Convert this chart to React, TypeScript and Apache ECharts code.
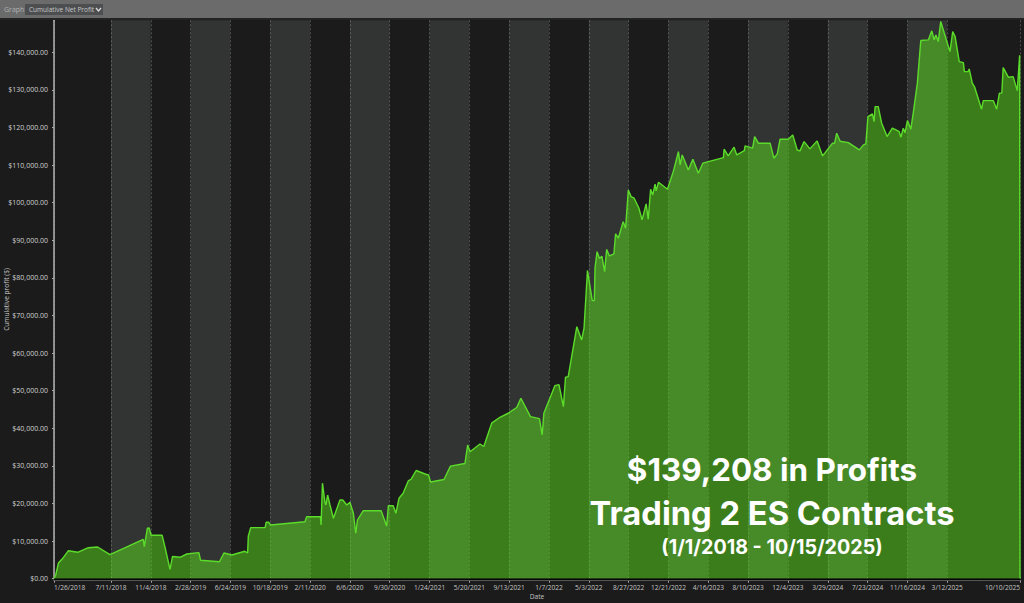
import React from 'react';
import * as echarts from 'echarts';

// x positions are days since the first axis date (1/26/2018)
const tickDays = [0, 166, 282, 398, 514, 630, 746, 862, 978, 1094, 1210, 1326, 1442, 1558, 1674, 1790, 1906, 2022, 2138, 2254, 2370, 2486, 2602, 2814];
const tickLabels = ['1/26/2018', '7/11/2018', '11/4/2018', '2/28/2019', '6/24/2019', '10/18/2019', '2/11/2020', '6/6/2020', '9/30/2020', '1/24/2021', '5/20/2021', '9/13/2021', '1/7/2022', '5/3/2022', '8/27/2022', '12/21/2022', '4/16/2023', '8/10/2023', '12/4/2023', '3/29/2024', '7/23/2024', '11/16/2024', '3/12/2025', '10/10/2025'];
const profitTicks = [0, 10000, 20000, 30000, 40000, 50000, 60000, 70000, 80000, 90000, 100000, 110000, 120000, 130000, 140000];

const tradeDays = [
  0, 5, 13, 27, 42, 69, 100, 127, 163, 260, 263, 272, 277, 283, 315, 323, 338, 345, 367, 387,
  422, 427, 482, 495, 518, 556, 564, 566, 573, 615, 618, 625, 631, 731, 736, 776, 778, 782, 789, 792,
  797, 804, 814, 833, 841, 853, 862, 872, 879, 884, 901, 953, 969, 974, 988, 996, 1005, 1017, 1032, 1040,
  1055, 1081, 1091, 1097, 1136, 1155, 1197, 1205, 1212, 1241, 1252, 1275, 1299, 1323, 1348, 1360, 1388, 1414, 1422, 1427,
  1459, 1471, 1484, 1490, 1498, 1523, 1537, 1544, 1554, 1568, 1574, 1576, 1582, 1589, 1596, 1604, 1610, 1618, 1631, 1636,
  1644, 1658, 1665, 1673, 1681, 1690, 1704, 1713, 1725, 1731, 1738, 1744, 1751, 1754, 1761, 1787, 1804, 1819, 1824, 1830,
  1848, 1861, 1877, 1890, 1950, 1952, 1964, 1981, 1989, 2011, 2013, 2035, 2041, 2052, 2086, 2097, 2107, 2115, 2139, 2152,
  2165, 2173, 2185, 2202, 2223, 2239, 2268, 2274, 2280, 2290, 2314, 2346, 2358, 2365, 2371, 2384, 2389, 2392, 2401, 2411,
  2427, 2442, 2453, 2462, 2467, 2474, 2479, 2486, 2496, 2503, 2515, 2525, 2547, 2557, 2564, 2569, 2576, 2583, 2610, 2618,
  2625, 2637, 2649, 2652, 2663, 2666, 2675, 2682, 2702, 2707, 2736, 2746, 2754, 2761, 2765, 2780, 2794, 2806, 2813, 2814,
];
const netProfit = [
  0, 980, 4180, 5590, 7450, 7020, 8250, 8430, 6380, 10480, 8510, 13410, 13490, 11540, 11540, 8510, 2500, 5900, 5690, 6570,
  6920, 4890, 4520, 6840, 6300, 7290, 6840, 11280, 13570, 13570, 15000, 15000, 14280, 15160, 16490, 16490, 14280, 25400, 20480, 19600,
  22260, 19600, 16070, 20930, 20930, 19600, 20320, 17400, 12080, 15610, 18090, 18090, 14020, 19420, 19420, 17400, 21390, 22720, 25990, 26440,
  28780, 27850, 27580, 25720, 26390, 29930, 30640, 35560, 33760, 35830, 35160, 41360, 42930, 44000, 45540, 47990, 43090, 42560, 38220, 44000,
  51340, 51600, 45750, 53570, 53730, 67030, 63490, 66610, 81980, 73950, 73950, 82640, 86980, 85170, 85760, 81660, 87570, 85840, 86370, 91690,
  90550, 94960, 93210, 103390, 101610, 101190, 98530, 95410, 99660, 95600, 103580, 102060, 104910, 103130, 105440, 103580, 108260, 113580, 110040, 112700,
  108710, 111560, 107840, 110500, 111990, 114220, 112440, 114750, 112700, 113850, 115100, 114490, 117570, 115820, 115820, 111830, 112970, 116880, 116880, 118020,
  114010, 113770, 116240, 114300, 116430, 112440, 115820, 115820, 118480, 116350, 115980, 114040, 115360, 115630, 122890, 123610, 121560, 125550, 125550, 121140,
  117570, 119810, 119350, 118900, 117410, 119810, 118560, 121830, 119540, 123800, 131780, 143110, 143290, 145690, 143290, 144620, 142840, 148160, 140180, 145500,
  144170, 137520, 137260, 134860, 134860, 135580, 131770, 130710, 124860, 127150, 127150, 124860, 129120, 129120, 135930, 133370, 133530, 129810, 139208, 0,
];

const money = (v: number) =>
  '$' + v.toLocaleString('en-US', { minimumFractionDigits: 2, maximumFractionDigits: 2 });

export default function App() {
  const chartRef = React.useRef<HTMLDivElement>(null);

  React.useEffect(() => {
    if (!chartRef.current) return;
    document.body.style.margin = '0';
    document.body.style.background = '#1b1b1b';

    const chart = echarts.init(chartRef.current, null, { renderer: 'svg' });

    chart.setOption({
      animation: false,
      backgroundColor: '#1b1b1b',
      grid: { left: 54, right: 4, top: 20.3, bottom: 24.3, outerBoundsMode: 'none' },
      xAxis: {
        type: 'value',
        min: 0,
        max: 2814,
        offset: 2,
        name: 'Date',
        nameLocation: 'middle',
        nameMoveOverlap: false,
        nameGap: 12,
        nameTextStyle: { color: '#c4c4c4', fontSize: 6.6, fontFamily: 'Open Sans' },
        axisLine: { show: true, onZero: false, lineStyle: { color: '#a8a8a8', width: 1 } },
        axisTick: { show: true, customValues: tickDays, length: 2, lineStyle: { color: '#a8a8a8' } },
        axisLabel: {
          customValues: tickDays,
          formatter: (v: number) => tickLabels[tickDays.indexOf(v)],
          color: '#c4c4c4',
          fontSize: 6.6,
          fontFamily: 'Open Sans',
          margin: 3,
          alignMinLabel: 'left',
          alignMaxLabel: 'right',
          hideOverlap: false,
        },
        splitLine: { show: true, lineStyle: { color: 'rgba(255,255,255,0.28)', type: [2, 2], width: 0.8 } },
        splitArea: { show: true, areaStyle: { color: ['#1b1b1b', '#323434'] } },
      },
      yAxis: {
        type: 'value',
        min: 0,
        max: 148500,
        name: 'Cumulative profit ($)',
        nameLocation: 'middle',
        nameMoveOverlap: false,
        nameRotate: 90,
        nameGap: 44,
        nameTextStyle: { color: '#c4c4c4', fontSize: 6.6, fontFamily: 'Open Sans' },
        axisLine: { show: true, lineStyle: { color: '#b4b4b4', width: 1.5 } },
        axisTick: { show: true, customValues: profitTicks, length: 2, lineStyle: { color: '#a8a8a8' } },
        axisLabel: {
          customValues: profitTicks,
          formatter: (v: number) => money(v),
          color: '#d0d0d0',
          fontSize: 7,
          fontFamily: 'Open Sans',
          margin: 6,
        },
        splitLine: { show: true, lineStyle: { color: 'rgba(255,255,255,0.28)', type: [4, 2], width: 0.8 } },
      },
      series: [
        {
          type: 'line',
          data: tradeDays.map((d, i) => [d, netProfit[i]]),
          showSymbol: false,
          smooth: false,
          silent: true,
          lineStyle: { color: '#5cdc2a', width: 1.4 },
          areaStyle: { color: '#5be01c', opacity: 0.5 },
        },
      ],
      graphic: [
        // toolbar strip above the plot
        { type: 'rect', shape: { x: 0, y: 0, width: 1024, height: 18 }, style: { fill: '#6b6b6b' }, z: 10 },
        { type: 'rect', shape: { x: 0, y: 18, width: 1024, height: 2 }, style: { fill: '#232323' }, z: 10 },
        { type: 'text', x: 4, y: 6, z: 11, style: { text: 'Graph:', fill: '#b0b0b0', fontSize: 7, fontFamily: 'Open Sans' } },
        { type: 'rect', shape: { x: 25, y: 4, width: 78, height: 11 }, style: { fill: '#4c4e50' }, z: 11 },
        { type: 'text', x: 29, y: 6, z: 12, style: { text: 'Cumulative Net Profit', fill: '#c8c8c8', fontSize: 6.5, fontFamily: 'Open Sans' } },
        { type: 'polyline', shape: { points: [[96, 8], [98.5, 11], [101, 8]] }, style: { stroke: '#dddddd', lineWidth: 1.2, fill: 'none' }, z: 12 },
        // black strip between the area and the date axis
        { type: 'rect', shape: { x: 54, y: 578.4, width: 966, height: 2 }, style: { fill: '#050505' }, z: 10 },
        // caption over the chart
        { type: 'text', x: 772, y: 470, z: 20, style: { text: '$139,208 in Profits', fill: '#ffffff', fontSize: 31.4, fontWeight: 700, fontFamily: 'Inter', align: 'center', verticalAlign: 'middle' } },
        { type: 'text', x: 772, y: 513, z: 20, style: { text: 'Trading 2 ES Contracts', fill: '#ffffff', fontSize: 32.7, fontWeight: 700, fontFamily: 'Inter', align: 'center', verticalAlign: 'middle' } },
        { type: 'text', x: 772, y: 547, z: 20, style: { text: '(1/1/2018 - 10/15/2025)', fill: '#ffffff', fontSize: 19.7, fontWeight: 700, fontFamily: 'Inter', align: 'center', verticalAlign: 'middle' } },
      ],
    });

    return () => {
      chart.dispose();
    };
  }, []);

  return <div ref={chartRef} style={{ width: '1024px', height: '603px' }} />;
}
